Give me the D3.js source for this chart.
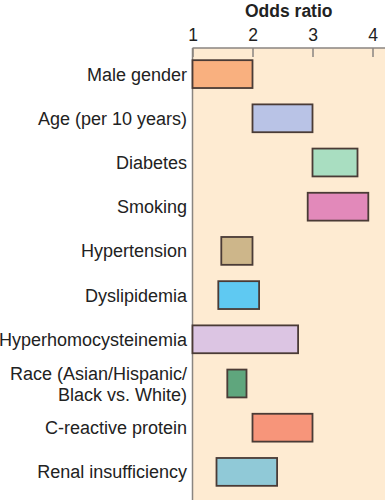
<!DOCTYPE html>
<html>
<head>
<meta charset="utf-8">
<script src="https://cdn.jsdelivr.net/npm/d3@7"></script>
<style>
html,body{margin:0;padding:0;background:#fff;}
svg{display:block;font-family:"Liberation Sans",Arial,Helvetica,sans-serif;}
</style>
</head>
<body>
<svg id="chart" width="385" height="500"></svg>
<script>
const categories = ["Male gender","Age (per 10 years)","Diabetes","Smoking","Hypertension","Dyslipidemia","Hyperhomocysteinemia","Race (Asian/Hispanic/\nBlack vs. White)","C-reactive protein","Renal insufficiency"];
const lowValues  = [1.0, 2.0, 3.0, 2.92, 1.48, 1.43, 1.0, 1.58, 2.0, 1.4];
const highValues = [2.0, 3.0, 3.75, 3.93, 2.0, 2.11, 2.76, 1.9, 3.0, 2.41];
const colors = ["#F9B07F","#B9C3E6","#A9DEC1","#E289BA","#CDB68A","#5FC9F2","#DCC5E3","#5FA67D","#F7957A","#90C9D7"];
const tickValues = [1,2,3,4];
const axisTitle = "Odds ratio";

const svg = d3.select("#chart");
const W = 385, H = 500;
const plotLeft = 192.5, plotTop = 48;

const x = d3.scaleLinear().domain([1,4]).range([192.5, 372.5]);
const y = d3.scaleBand().domain(categories).range([52, 494]).paddingInner(0.37).paddingOuter(0.185);

// background panel
svg.append("rect").attr("x", plotLeft).attr("y", plotTop)
  .attr("width", W - plotLeft).attr("height", H - plotTop)
  .attr("fill", "#FEEBD2");

// top axis
const axis = d3.axisTop(x).tickValues(tickValues).tickSize(-9).tickPadding(0).tickFormat(d3.format("d"));
const gAxis = svg.append("g").attr("transform", `translate(0,${plotTop})`).call(axis);
gAxis.select(".domain").remove();
gAxis.selectAll(".tick line").attr("stroke", "#8a8580").attr("stroke-width", 1.5);
gAxis.selectAll(".tick text").attr("y", -7).attr("dy", 0).attr("fill", "#222").attr("font-size", 17.5);

// frame lines
svg.append("line").attr("x1", plotLeft).attr("x2", W).attr("y1", plotTop).attr("y2", plotTop)
  .attr("stroke", "#8a8580").attr("stroke-width", 1.5);
svg.append("line").attr("x1", plotLeft).attr("x2", plotLeft).attr("y1", plotTop).attr("y2", H)
  .attr("stroke", "#8a8580").attr("stroke-width", 1.5);

// title
svg.append("text").attr("x", (plotLeft + W) / 2).attr("y", 17)
  .attr("text-anchor", "middle").attr("font-weight", "bold").attr("font-size", 17.5)
  .attr("fill", "#222").text(axisTitle);

// bars
svg.append("g").selectAll("rect").data(categories).join("rect")
  .attr("x", (d,i) => x(lowValues[i]))
  .attr("y", d => y(d))
  .attr("width", (d,i) => x(highValues[i]) - x(lowValues[i]))
  .attr("height", y.bandwidth())
  .attr("fill", (d,i) => colors[i])
  .attr("stroke", "#4a3b36").attr("stroke-width", 1.8);

// category labels
const labels = svg.append("g").selectAll("text").data(categories).join("text")
  .attr("x", 187).attr("text-anchor", "end").attr("font-size", 18).attr("fill", "#222")
  .attr("y", d => y(d) + y.bandwidth() / 2);
labels.each(function(d) {
  const lines = d.split("\n");
  const t = d3.select(this);
  const lh = 21;
  lines.forEach((ln, k) => {
    t.append("tspan").attr("x", 187)
      .attr("dy", k === 0 ? ((-(lines.length - 1) * lh / 2) + 6.5) : lh)
      .text(ln);
  });
});
</script>
</body>
</html>
